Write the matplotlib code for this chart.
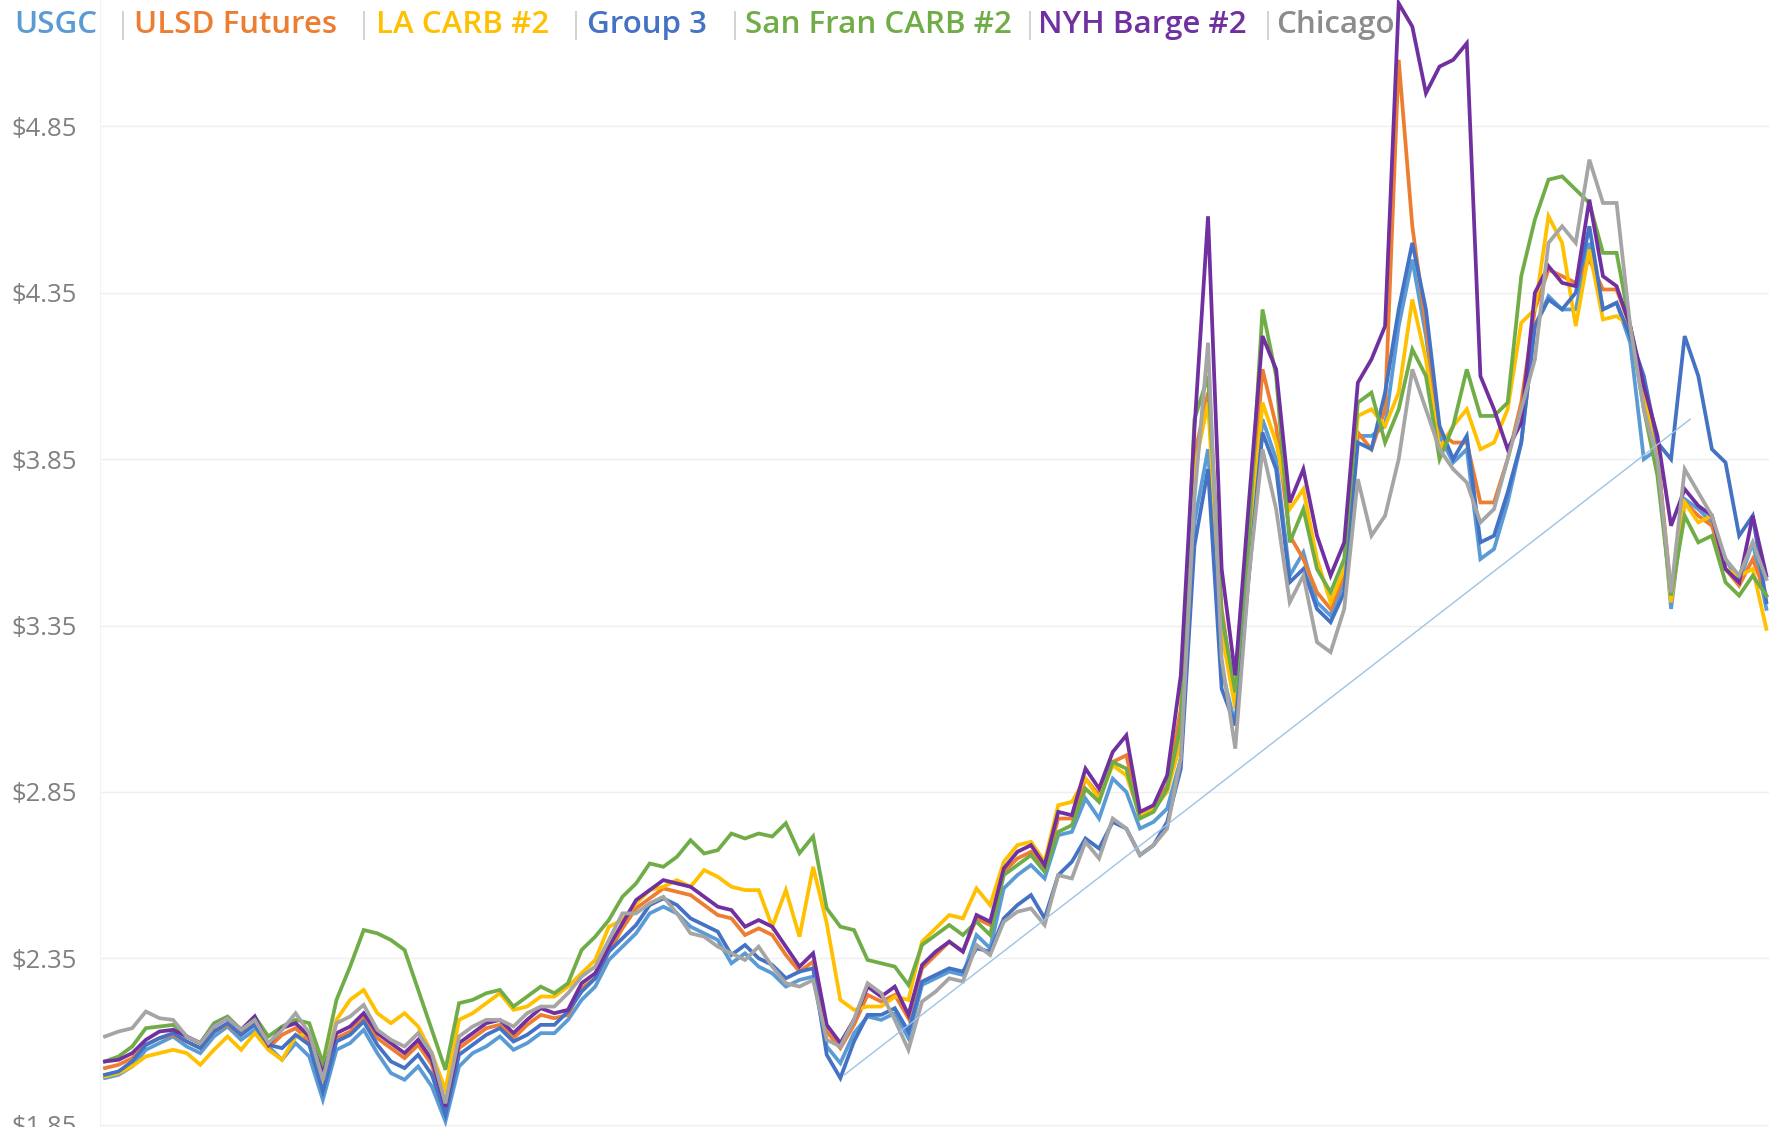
import matplotlib.pyplot as plt
import numpy as np

# weekly spot prices, $/gal
series_names = ["USGC", "ULSD Futures", "LA CARB #2", "Group 3",
                "San Fran CARB #2", "NYH Barge #2", "Chicago"]
series_colors = ["#5B9BD5", "#ED7D31", "#FFC000", "#4472C4",
                 "#70AD47", "#7030A0", "#A5A5A5"]

usgc = [1.99, 2.00, 2.025, 2.075, 2.095, 2.115, 2.085, 2.065, 2.115, 2.145,
        2.105, 2.135, 2.085, 2.045, 2.095, 2.055, 1.925, 2.075, 2.095, 2.135,
        2.065, 2.005, 1.985, 2.025, 1.965, 1.86, 2.025, 2.065, 2.085,
        2.115, 2.075, 2.095, 2.125, 2.125, 2.165, 2.225, 2.265, 2.345, 2.385,
        2.425, 2.485, 2.505, 2.485, 2.445, 2.425, 2.405, 2.335, 2.365, 2.325,
        2.305, 2.265, 2.285, 2.295, 2.085, 2.035, 2.125, 2.175, 2.165, 2.185, 2.11,
        2.27, 2.29, 2.31, 2.30, 2.42, 2.38, 2.56, 2.60, 2.63, 2.59,
        2.72, 2.73, 2.83, 2.77, 2.89, 2.85, 2.74, 2.76, 2.80, 2.95, 3.66,
        3.88, 3.22, 3.05, 3.52, 3.97, 3.85, 3.50, 3.57, 3.42, 3.38,
        3.48, 3.92, 3.92, 3.95, 4.25, 4.45, 4.22, 3.92, 3.84, 3.88,
        3.55, 3.58, 3.72, 3.90, 4.25, 4.34, 4.30, 4.30, 4.50, 4.30,
        4.32, 4.20, 3.85, 3.88, 3.40, 3.73, 3.70, 3.66, 3.55, 3.48, 3.60, 3.40]

ulsd = [2.02, 2.03, 2.05, 2.09, 2.11, 2.12, 2.10, 2.08, 2.13, 2.15,
        2.12, 2.16, 2.08, 2.12, 2.14, 2.10, 1.99, 2.11, 2.13, 2.17,
        2.11, 2.08, 2.05, 2.09, 2.03, 1.89, 2.08, 2.11, 2.14,
        2.15, 2.11, 2.15, 2.18, 2.17, 2.18, 2.26, 2.29, 2.37, 2.44,
        2.50, 2.53, 2.56, 2.55, 2.54, 2.51, 2.48, 2.47, 2.42, 2.44,
        2.42, 2.36, 2.31, 2.34, 2.13, 2.08, 2.15, 2.24, 2.22, 2.24, 2.17,
        2.32, 2.36, 2.40, 2.37, 2.47, 2.45, 2.61, 2.65, 2.67, 2.62,
        2.77, 2.77, 2.89, 2.84, 2.94, 2.96, 2.78, 2.80, 2.87, 3.10, 3.86,
        4.05, 3.40, 3.12, 3.60, 4.12, 3.95, 3.62, 3.55, 3.45, 3.40,
        3.50, 3.93, 3.88, 4.00, 5.05, 4.55, 4.25, 3.93, 3.90, 3.90,
        3.72, 3.72, 3.85, 4.02, 4.30, 4.42, 4.40, 4.38, 4.45, 4.36,
        4.36, 4.25, 4.05, 3.87, 3.45, 3.72, 3.68, 3.65, 3.52, 3.47, 3.55, 3.44]

la_carb = [1.995, 2.005, 2.025, 2.055, 2.065, 2.075, 2.065, 2.03, 2.075, 2.115,
           2.075, 2.125, 2.075, 2.045, 2.115, 2.125, 1.995, 2.165, 2.225, 2.255,
           2.185, 2.155, 2.185, 2.145, 2.065, 1.955, 2.165, 2.185, 2.215,
           2.245, 2.195, 2.205, 2.235, 2.235, 2.265, 2.305, 2.345, 2.445, 2.465,
           2.515, 2.555, 2.565, 2.585, 2.565, 2.615, 2.595, 2.565, 2.555, 2.555,
           2.445, 2.555, 2.415, 2.625, 2.455, 2.225, 2.195, 2.205, 2.205, 2.235, 2.225,
           2.40, 2.44, 2.48, 2.47, 2.56, 2.51, 2.64, 2.69, 2.70, 2.64,
           2.81, 2.82, 2.89, 2.83, 2.93, 2.90, 2.78, 2.80, 2.85, 3.00, 3.82,
           4.02, 3.33, 3.10, 3.55, 4.02, 3.90, 3.70, 3.76, 3.55, 3.42,
           3.52, 3.98, 4.00, 3.95, 4.05, 4.33, 4.15, 3.88, 3.95, 4.00,
           3.88, 3.90, 4.00, 4.26, 4.30, 4.58, 4.50, 4.25, 4.48, 4.27,
           4.28, 4.25, 4.05, 3.85, 3.42, 3.72, 3.66, 3.68, 3.52, 3.50, 3.52, 3.34]

group3 = [2.00, 2.01, 2.04, 2.09, 2.11, 2.125, 2.10, 2.08, 2.13, 2.155,
          2.12, 2.15, 2.09, 2.08, 2.12, 2.09, 1.95, 2.10, 2.12, 2.16,
          2.09, 2.04, 2.02, 2.06, 2.00, 1.88, 2.06, 2.09, 2.12,
          2.14, 2.10, 2.12, 2.15, 2.15, 2.19, 2.25, 2.29, 2.37, 2.41,
          2.45, 2.51, 2.53, 2.51, 2.47, 2.45, 2.43, 2.36, 2.39, 2.35,
          2.33, 2.29, 2.31, 2.32, 2.06, 1.99, 2.10, 2.18, 2.18, 2.20, 2.13,
          2.28, 2.30, 2.32, 2.31, 2.38, 2.37, 2.47, 2.51, 2.54, 2.47,
          2.60, 2.64, 2.71, 2.68, 2.76, 2.74, 2.66, 2.69, 2.76, 2.92, 3.59,
          3.82, 3.16, 3.05, 3.50, 3.93, 3.82, 3.48, 3.52, 3.40, 3.36,
          3.45, 3.90, 3.88, 4.05, 4.30, 4.50, 4.30, 3.95, 3.85, 3.92,
          3.60, 3.62, 3.75, 3.90, 4.25, 4.33, 4.30, 4.35, 4.55, 4.30,
          4.32, 4.22, 4.10, 3.90, 3.85, 4.22, 4.10, 3.88, 3.84, 3.62, 3.68, 3.42]

san_fran = [2.04, 2.055, 2.085, 2.14, 2.145, 2.15, 2.115, 2.095, 2.155, 2.175,
            2.135, 2.175, 2.115, 2.145, 2.165, 2.155, 2.035, 2.225, 2.325, 2.435,
            2.425, 2.405, 2.375, 2.255, 2.135, 2.015, 2.215, 2.225, 2.245,
            2.255, 2.205, 2.235, 2.265, 2.245, 2.275, 2.375, 2.415, 2.465, 2.535,
            2.575, 2.635, 2.625, 2.655, 2.705, 2.665, 2.675, 2.725, 2.71, 2.725,
            2.716, 2.756, 2.666, 2.716, 2.50, 2.445, 2.435, 2.345, 2.335, 2.325, 2.27,
            2.39, 2.42, 2.45, 2.42, 2.46, 2.42, 2.60, 2.63, 2.66, 2.61,
            2.73, 2.75, 2.86, 2.82, 2.94, 2.92, 2.77, 2.79, 2.86, 3.05, 3.97,
            4.10, 3.38, 3.15, 3.62, 4.30, 4.10, 3.60, 3.70, 3.52, 3.45,
            3.55, 4.02, 4.05, 3.90, 4.00, 4.18, 4.10, 3.85, 3.95, 4.12,
            3.98, 3.98, 4.02, 4.40, 4.57, 4.69, 4.70, 4.66, 4.62, 4.47,
            4.47, 4.25, 4.00, 3.80, 3.44, 3.68, 3.60, 3.62, 3.48, 3.44, 3.50, 3.44]

nyh_barge = [2.04, 2.045, 2.065, 2.105, 2.13, 2.135, 2.115, 2.095, 2.145, 2.17,
             2.135, 2.175, 2.09, 2.14, 2.155, 2.115, 2.005, 2.125, 2.145, 2.185,
             2.125, 2.095, 2.065, 2.105, 2.045, 1.904, 2.095, 2.125, 2.155,
             2.165, 2.125, 2.165, 2.20, 2.185, 2.195, 2.275, 2.305, 2.385, 2.455,
             2.525, 2.555, 2.585, 2.575, 2.565, 2.535, 2.505, 2.495, 2.445, 2.465,
             2.445, 2.385, 2.325, 2.365, 2.15, 2.095, 2.165, 2.265, 2.235, 2.265, 2.18,
             2.33, 2.37, 2.40, 2.37, 2.48, 2.46, 2.62, 2.67, 2.69, 2.63,
             2.79, 2.78, 2.92, 2.86, 2.97, 3.02, 2.79, 2.81, 2.90, 3.20, 3.94,
             4.58, 3.52, 3.20, 3.72, 4.22, 4.12, 3.72, 3.82, 3.62, 3.50,
             3.60, 4.08, 4.15, 4.25, 5.22, 5.15, 4.95, 5.03, 5.05, 5.10,
             4.10, 4.00, 3.88, 3.96, 4.35, 4.43, 4.38, 4.37, 4.63, 4.40,
             4.37, 4.25, 4.07, 3.92, 3.65, 3.76, 3.71, 3.68, 3.52, 3.48, 3.68, 3.50]

chicago = [2.115, 2.13, 2.14, 2.19, 2.17, 2.165, 2.115, 2.095, 2.145, 2.17,
           2.135, 2.165, 2.095, 2.135, 2.185, 2.125, 1.985, 2.155, 2.175, 2.21,
           2.135, 2.105, 2.085, 2.125, 2.065, 1.914, 2.115, 2.145, 2.165,
           2.165, 2.145, 2.185, 2.205, 2.205, 2.245, 2.295, 2.325, 2.405, 2.485,
           2.485, 2.515, 2.535, 2.485, 2.425, 2.415, 2.385, 2.365, 2.345, 2.385,
           2.325, 2.275, 2.265, 2.285, 2.105, 2.085, 2.165, 2.275, 2.245, 2.165, 2.075,
           2.22, 2.25, 2.29, 2.28, 2.39, 2.36, 2.46, 2.49, 2.50, 2.45,
           2.60, 2.59, 2.70, 2.65, 2.77, 2.74, 2.66, 2.69, 2.74, 2.95, 3.73,
           4.20, 3.25, 2.98, 3.50, 3.88, 3.70, 3.42, 3.50, 3.30, 3.27,
           3.40, 3.79, 3.62, 3.68, 3.85, 4.12, 4.00, 3.88, 3.82, 3.78,
           3.66, 3.70, 3.85, 4.00, 4.15, 4.50, 4.55, 4.50, 4.75, 4.62,
           4.62, 4.25, 4.00, 3.85, 3.45, 3.82, 3.75, 3.68, 3.55, 3.50, 3.60, 3.49]

# straight trend line drawn on the original (week index, price)
trend_x = [54.3, 116.4]
trend_y = [2.00, 3.97]

y_ticks = [1.85, 2.35, 2.85, 3.35, 3.85, 4.35, 4.85]

all_series = [usgc, ulsd, la_carb, group3, san_fran, nyh_barge, chicago]
weeks = np.arange(len(usgc))
for s in all_series:
    assert len(s) == len(weeks)

plt.rcParams['font.family'] = ['Open Sans', 'DejaVu Sans']

fig = plt.figure(figsize=(17.78, 11.27), dpi=100)
ax = fig.add_axes([0.0562, 0.0, 0.9388, 1.0])

for name, color, vals in zip(series_names, series_colors, all_series):
    ax.plot(weeks, vals, color=color, lw=2.7, label=name, solid_joinstyle='miter')

ax.plot(trend_x, trend_y, color="#9DC3E6", lw=1.0)

ax.set_xlim(-0.37, 122.2)
ax.set_ylim(1.843, 5.23)
ax.set_yticks(y_ticks)
ax.set_yticklabels([f"${v:.2f}" for v in y_ticks])
ax.set_xticks([])
ax.tick_params(axis='y', length=0, pad=16.5, labelsize=18.5, labelcolor="#808080")
ax.grid(axis='y', color="#EFEFEF", lw=1.0)
ax.set_axisbelow(True)
for side in ['top', 'right', 'bottom']:
    ax.spines[side].set_visible(False)
ax.spines['left'].set_color("#F2F2F2")

# legend as coloured text along the top
legend_colors = series_colors[:-1] + ["#8C8C8C"]
legend_x = [14, 134, 376, 587, 745, 1038, 1276]
sep_x = [115, 356, 568, 727, 1022, 1260]
W, H = 1778.0, 1127.0
ly = 1 - 25 / H
for name, color, x in zip(series_names, legend_colors, legend_x):
    fig.text(x / W, ly, name, color=color, fontsize=22.5, fontweight='semibold',
             va='center', ha='left')
for x in sep_x:
    fig.text(x / W, ly, "|", color="#D3D3D3", fontsize=21, va='center', ha='left')

fig.savefig("out.png", dpi=100)
